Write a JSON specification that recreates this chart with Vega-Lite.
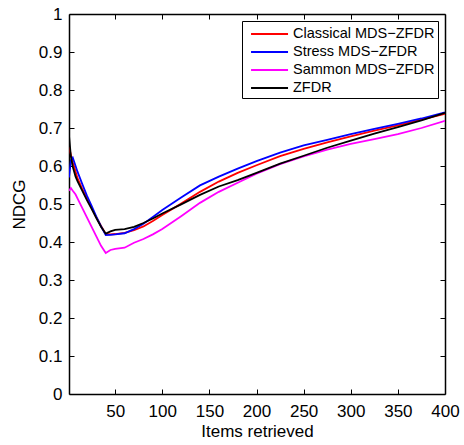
{
  "$schema": "https://vega.github.io/schema/vega-lite/v6.json",
  "width": 376,
  "height": 380,
  "autosize": {"type": "none"},
  "padding": {"left": 69, "top": 14, "right": 19, "bottom": 51},
  "background": "white",
  "config": {"font": "Liberation Sans", "view": {"stroke": null}},
  "datasets": {
    "curves": [
      {"x": 1, "v": 0.65, "s": "Classical MDS−ZFDR"}, {"x": 3, "v": 0.63, "s": "Classical MDS−ZFDR"}, {"x": 5, "v": 0.61, "s": "Classical MDS−ZFDR"}, {"x": 8, "v": 0.585, "s": "Classical MDS−ZFDR"}, {"x": 10, "v": 0.568, "s": "Classical MDS−ZFDR"}, {"x": 15, "v": 0.54, "s": "Classical MDS−ZFDR"}, {"x": 20, "v": 0.515, "s": "Classical MDS−ZFDR"}, {"x": 25, "v": 0.49, "s": "Classical MDS−ZFDR"}, {"x": 30, "v": 0.465, "s": "Classical MDS−ZFDR"}, {"x": 35, "v": 0.442, "s": "Classical MDS−ZFDR"}, {"x": 40, "v": 0.421, "s": "Classical MDS−ZFDR"}, {"x": 45, "v": 0.42, "s": "Classical MDS−ZFDR"}, {"x": 50, "v": 0.421, "s": "Classical MDS−ZFDR"}, {"x": 60, "v": 0.424, "s": "Classical MDS−ZFDR"}, {"x": 70, "v": 0.431, "s": "Classical MDS−ZFDR"}, {"x": 80, "v": 0.441, "s": "Classical MDS−ZFDR"}, {"x": 90, "v": 0.455, "s": "Classical MDS−ZFDR"}, {"x": 100, "v": 0.471, "s": "Classical MDS−ZFDR"}, {"x": 120, "v": 0.501, "s": "Classical MDS−ZFDR"}, {"x": 140, "v": 0.532, "s": "Classical MDS−ZFDR"}, {"x": 160, "v": 0.559, "s": "Classical MDS−ZFDR"}, {"x": 180, "v": 0.582, "s": "Classical MDS−ZFDR"}, {"x": 200, "v": 0.602, "s": "Classical MDS−ZFDR"}, {"x": 225, "v": 0.626, "s": "Classical MDS−ZFDR"}, {"x": 250, "v": 0.645, "s": "Classical MDS−ZFDR"}, {"x": 275, "v": 0.662, "s": "Classical MDS−ZFDR"}, {"x": 300, "v": 0.678, "s": "Classical MDS−ZFDR"}, {"x": 325, "v": 0.693, "s": "Classical MDS−ZFDR"}, {"x": 350, "v": 0.707, "s": "Classical MDS−ZFDR"}, {"x": 375, "v": 0.722, "s": "Classical MDS−ZFDR"}, {"x": 400, "v": 0.737, "s": "Classical MDS−ZFDR"},
      {"x": 1, "v": 0.57, "s": "Stress MDS−ZFDR"}, {"x": 3, "v": 0.615, "s": "Stress MDS−ZFDR"}, {"x": 5, "v": 0.622, "s": "Stress MDS−ZFDR"}, {"x": 8, "v": 0.6, "s": "Stress MDS−ZFDR"}, {"x": 10, "v": 0.585, "s": "Stress MDS−ZFDR"}, {"x": 15, "v": 0.553, "s": "Stress MDS−ZFDR"}, {"x": 20, "v": 0.522, "s": "Stress MDS−ZFDR"}, {"x": 25, "v": 0.495, "s": "Stress MDS−ZFDR"}, {"x": 30, "v": 0.467, "s": "Stress MDS−ZFDR"}, {"x": 35, "v": 0.441, "s": "Stress MDS−ZFDR"}, {"x": 40, "v": 0.418, "s": "Stress MDS−ZFDR"}, {"x": 45, "v": 0.419, "s": "Stress MDS−ZFDR"}, {"x": 50, "v": 0.42, "s": "Stress MDS−ZFDR"}, {"x": 60, "v": 0.423, "s": "Stress MDS−ZFDR"}, {"x": 70, "v": 0.434, "s": "Stress MDS−ZFDR"}, {"x": 80, "v": 0.448, "s": "Stress MDS−ZFDR"}, {"x": 90, "v": 0.466, "s": "Stress MDS−ZFDR"}, {"x": 100, "v": 0.484, "s": "Stress MDS−ZFDR"}, {"x": 120, "v": 0.517, "s": "Stress MDS−ZFDR"}, {"x": 140, "v": 0.549, "s": "Stress MDS−ZFDR"}, {"x": 160, "v": 0.572, "s": "Stress MDS−ZFDR"}, {"x": 180, "v": 0.593, "s": "Stress MDS−ZFDR"}, {"x": 200, "v": 0.613, "s": "Stress MDS−ZFDR"}, {"x": 225, "v": 0.635, "s": "Stress MDS−ZFDR"}, {"x": 250, "v": 0.654, "s": "Stress MDS−ZFDR"}, {"x": 275, "v": 0.669, "s": "Stress MDS−ZFDR"}, {"x": 300, "v": 0.684, "s": "Stress MDS−ZFDR"}, {"x": 325, "v": 0.698, "s": "Stress MDS−ZFDR"}, {"x": 350, "v": 0.711, "s": "Stress MDS−ZFDR"}, {"x": 375, "v": 0.725, "s": "Stress MDS−ZFDR"}, {"x": 400, "v": 0.741, "s": "Stress MDS−ZFDR"},
      {"x": 1, "v": 0.535, "s": "Sammon MDS−ZFDR"}, {"x": 3, "v": 0.542, "s": "Sammon MDS−ZFDR"}, {"x": 5, "v": 0.535, "s": "Sammon MDS−ZFDR"}, {"x": 8, "v": 0.525, "s": "Sammon MDS−ZFDR"}, {"x": 10, "v": 0.515, "s": "Sammon MDS−ZFDR"}, {"x": 15, "v": 0.49, "s": "Sammon MDS−ZFDR"}, {"x": 20, "v": 0.465, "s": "Sammon MDS−ZFDR"}, {"x": 25, "v": 0.44, "s": "Sammon MDS−ZFDR"}, {"x": 30, "v": 0.415, "s": "Sammon MDS−ZFDR"}, {"x": 35, "v": 0.39, "s": "Sammon MDS−ZFDR"}, {"x": 40, "v": 0.371, "s": "Sammon MDS−ZFDR"}, {"x": 45, "v": 0.379, "s": "Sammon MDS−ZFDR"}, {"x": 50, "v": 0.382, "s": "Sammon MDS−ZFDR"}, {"x": 60, "v": 0.385, "s": "Sammon MDS−ZFDR"}, {"x": 70, "v": 0.398, "s": "Sammon MDS−ZFDR"}, {"x": 80, "v": 0.408, "s": "Sammon MDS−ZFDR"}, {"x": 90, "v": 0.42, "s": "Sammon MDS−ZFDR"}, {"x": 100, "v": 0.434, "s": "Sammon MDS−ZFDR"}, {"x": 120, "v": 0.468, "s": "Sammon MDS−ZFDR"}, {"x": 140, "v": 0.503, "s": "Sammon MDS−ZFDR"}, {"x": 160, "v": 0.532, "s": "Sammon MDS−ZFDR"}, {"x": 180, "v": 0.556, "s": "Sammon MDS−ZFDR"}, {"x": 200, "v": 0.58, "s": "Sammon MDS−ZFDR"}, {"x": 225, "v": 0.605, "s": "Sammon MDS−ZFDR"}, {"x": 250, "v": 0.625, "s": "Sammon MDS−ZFDR"}, {"x": 275, "v": 0.643, "s": "Sammon MDS−ZFDR"}, {"x": 300, "v": 0.658, "s": "Sammon MDS−ZFDR"}, {"x": 325, "v": 0.671, "s": "Sammon MDS−ZFDR"}, {"x": 350, "v": 0.684, "s": "Sammon MDS−ZFDR"}, {"x": 375, "v": 0.7, "s": "Sammon MDS−ZFDR"}, {"x": 400, "v": 0.719, "s": "Sammon MDS−ZFDR"},
      {"x": 1, "v": 0.68, "s": "ZFDR"}, {"x": 3, "v": 0.625, "s": "ZFDR"}, {"x": 5, "v": 0.598, "s": "ZFDR"}, {"x": 8, "v": 0.572, "s": "ZFDR"}, {"x": 10, "v": 0.56, "s": "ZFDR"}, {"x": 15, "v": 0.535, "s": "ZFDR"}, {"x": 20, "v": 0.51, "s": "ZFDR"}, {"x": 25, "v": 0.487, "s": "ZFDR"}, {"x": 30, "v": 0.463, "s": "ZFDR"}, {"x": 35, "v": 0.44, "s": "ZFDR"}, {"x": 40, "v": 0.422, "s": "ZFDR"}, {"x": 45, "v": 0.428, "s": "ZFDR"}, {"x": 50, "v": 0.432, "s": "ZFDR"}, {"x": 60, "v": 0.434, "s": "ZFDR"}, {"x": 70, "v": 0.44, "s": "ZFDR"}, {"x": 80, "v": 0.45, "s": "ZFDR"}, {"x": 90, "v": 0.462, "s": "ZFDR"}, {"x": 100, "v": 0.475, "s": "ZFDR"}, {"x": 120, "v": 0.499, "s": "ZFDR"}, {"x": 140, "v": 0.524, "s": "ZFDR"}, {"x": 160, "v": 0.546, "s": "ZFDR"}, {"x": 180, "v": 0.563, "s": "ZFDR"}, {"x": 200, "v": 0.582, "s": "ZFDR"}, {"x": 225, "v": 0.606, "s": "ZFDR"}, {"x": 250, "v": 0.627, "s": "ZFDR"}, {"x": 275, "v": 0.648, "s": "ZFDR"}, {"x": 300, "v": 0.667, "s": "ZFDR"}, {"x": 325, "v": 0.685, "s": "ZFDR"}, {"x": 350, "v": 0.702, "s": "ZFDR"}, {"x": 375, "v": 0.72, "s": "ZFDR"}, {"x": 400, "v": 0.74, "s": "ZFDR"}
    ]
  },
  "data": {"name": "curves"},
  "layer": [
    {
      "mark": {"type": "line", "strokeWidth": 1.8, "clip": true},
      "encoding": {
        "x": {
          "field": "x", "type": "quantitative",
          "scale": {"domain": [1, 400], "nice": false, "zero": false},
          "axis": {
            "orient": "bottom", "values": [50, 100, 150, 200, 250, 300, 350, 400],
            "tickSize": -5, "tickColor": "black", "tickWidth": 1,
            "domainColor": "black", "domainWidth": 1.5,
            "labelFontSize": 17, "labelColor": "black", "labelPadding": 14,
            "labelFlush": false, "labelOverlap": false, "grid": false,
            "title": "Items retrieved", "titleFontSize": 17, "titleFontWeight": "normal",
            "titleColor": "black", "titlePadding": 4
          }
        },
        "y": {
          "field": "v", "type": "quantitative",
          "scale": {"domain": [0, 1], "nice": false},
          "axis": {
            "orient": "left", "values": [0, 0.1, 0.2, 0.3, 0.4, 0.5, 0.6, 0.7, 0.8, 0.9, 1],
            "format": "~g",
            "tickSize": -5, "tickColor": "black", "tickWidth": 1,
            "domainColor": "black", "domainWidth": 1.5,
            "labelFontSize": 17, "labelColor": "black", "labelPadding": 12,
            "labelFlush": false, "labelOverlap": false, "grid": false,
            "title": "NDCG", "titleFontSize": 17, "titleFontWeight": "normal",
            "titleColor": "black", "titlePadding": 10
          }
        },
        "color": {
          "field": "s", "type": "nominal",
          "scale": {
            "domain": ["Classical MDS−ZFDR", "Stress MDS−ZFDR", "Sammon MDS−ZFDR", "ZFDR"],
            "range": ["#ff0000", "#0000ff", "#ff00ff", "#000000"]
          },
          "legend": {
            "orient": "none", "legendX": 173, "legendY": 7,
            "title": null,
            "strokeColor": "black", "fillColor": "white", "padding": 3,
            "symbolType": "M-0.44,0H3.67", "symbolSize": 324, "symbolStrokeWidth": 2,
            "symbolFillColor": "transparent",
            "labelFontSize": 14.5, "labelColor": "black", "labelOffset": 28,
            "rowPadding": 1, "labelLimit": 300
          }
        }
      }
    },
    {
      "mark": {"type": "line", "opacity": 0},
      "encoding": {
        "x": {
          "field": "x", "type": "quantitative",
          "scale": {"domain": [1, 400], "nice": false, "zero": false},
          "axis": {
            "orient": "top", "values": [50, 100, 150, 200, 250, 300, 350, 400],
            "tickSize": -5, "tickColor": "black", "tickWidth": 1,
            "domainColor": "black", "domainWidth": 1.5,
            "labels": false, "grid": false, "title": null
          }
        },
        "y": {
          "field": "v", "type": "quantitative",
          "scale": {"domain": [0, 1], "nice": false},
          "axis": {
            "orient": "right", "values": [0.1, 0.2, 0.3, 0.4, 0.5, 0.6, 0.7, 0.8, 0.9],
            "tickSize": -5, "tickColor": "black", "tickWidth": 1,
            "domainColor": "black", "domainWidth": 1.5,
            "labels": false, "grid": false, "title": null
          }
        }
      }
    }
  ],
  "resolve": {"axis": {"x": "independent", "y": "independent"}}
}
